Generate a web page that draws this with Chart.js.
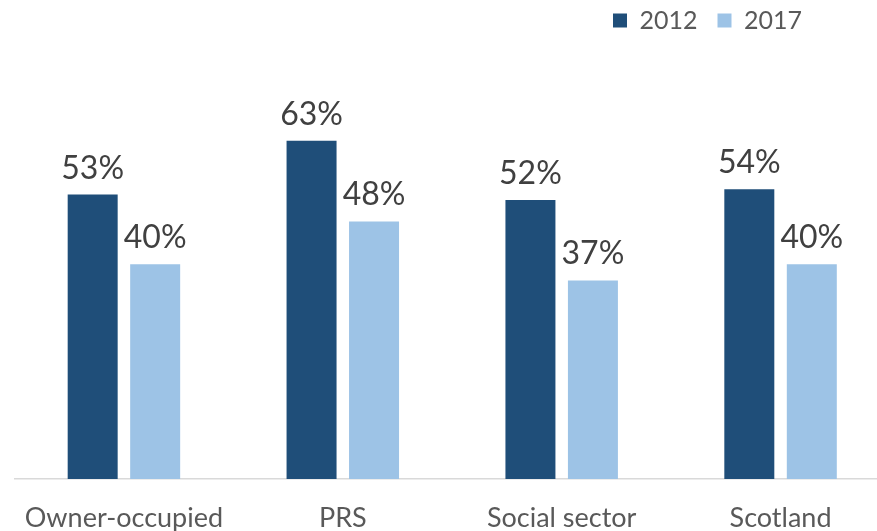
<!DOCTYPE html>
<html>
<head>
<meta charset="utf-8">
<script src="https://cdn.jsdelivr.net/npm/chart.js@4"></script>
<style>
    html, body { margin: 0; padding: 0; background: #fff; overflow: hidden; }
    #chart-container { position: relative; width: 892px; height: 531px; }
</style>
</head>
<body>
<div id="chart-container"><canvas id="tenure-chart"></canvas></div>
<script>
const CATEGORIES = ['Owner-occupied', 'PRS', 'Social sector', 'Scotland'];
const VALUES_2012 = [53, 63, 52, 54];
const VALUES_2017 = [40, 48, 37, 40];
const SERIES_LABELS = ['2012', '2017'];

const FONT = "Lato, 'Open Sans', sans-serif";

// draws "53%" above each bar
const valueLabels = {
    id: 'valueLabels',
    afterDatasetsDraw(chart) {
        let ctx = chart.ctx;
        ctx.save();
        ctx.font = '32px ' + FONT;
        ctx.fillStyle = '#404040';
        ctx.textAlign = 'center';
        ctx.textBaseline = 'alphabetic';
        chart.data.datasets.forEach((ds, i) => {
            chart.getDatasetMeta(i).data.forEach((bar, j) => {
                ctx.fillText(ds.data[j] + '%', bar.x, bar.y - 16);
            });
        });
        ctx.restore();
    }
};

// nudge the legend up and away from the right edge
const legendShift = {
    id: 'legendShift',
    beforeDraw(chart) {
        chart.legend.top = -12;
        chart.legend.right = 822;
    }
};

let canvas = document.getElementById('tenure-chart');
new Chart(canvas, {
    type: 'bar',
    data: {
        labels: CATEGORIES,
        datasets: [{
            label: SERIES_LABELS[0],
            data: VALUES_2012,
            backgroundColor: '#1F4E79',
            categoryPercentage: 0.571,
            barPercentage: 0.8
        }, {
            label: SERIES_LABELS[1],
            data: VALUES_2017,
            backgroundColor: '#9DC3E6',
            categoryPercentage: 0.571,
            barPercentage: 0.8
        }]
    },
    options: {
        responsive: true,
        maintainAspectRatio: false,
        animation: false,
        layout: { padding: { left: 14, right: 2, top: 0, bottom: 0 } },
        plugins: {
            legend: {
                position: 'top',
                align: 'end',
                labels: {
                    boxWidth: 14,
                    boxHeight: 14,
                    padding: 20,
                    color: '#595959',
                    font: { family: FONT, size: 25 }
                }
            },
            tooltip: { enabled: false }
        },
        scales: {
            x: {
                grid: { display: false, drawTicks: false },
                border: { display: true, color: '#D9D9D9', width: 1.5 },
                ticks: {
                    color: '#595959',
                    padding: 23,
                    font: { family: FONT, size: 27 },
                    maxRotation: 0
                },
                afterFit(scale) {
                    scale.height = 52;
                }
            },
            y: {
                display: false,
                min: 0,
                max: 79
            }
        }
    },
    plugins: [valueLabels, legendShift]
});
</script>
</body>
</html>
